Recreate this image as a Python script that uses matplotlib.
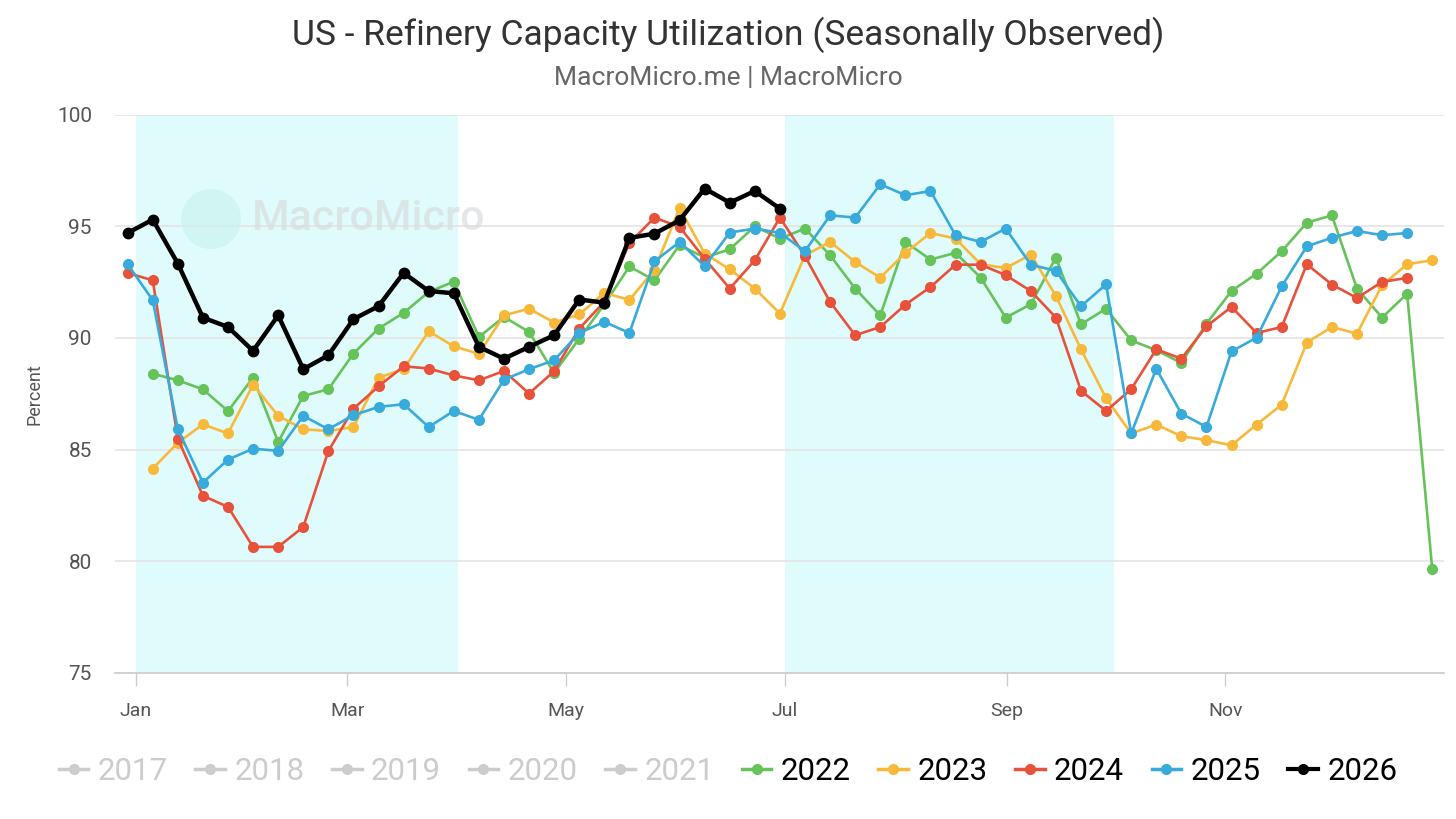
import numpy as np
import matplotlib.pyplot as plt
from matplotlib.lines import Line2D
from matplotlib.patches import Ellipse

plt.rcParams['font.family'] = ['Roboto', 'DejaVu Sans']

# --- datos (porcentaje semanal, índice de semana 0..52) ---
nan = np.nan
y2022 = [nan, 88.4, 88.1, 87.7, 86.72, 88.22, 85.34, 87.4, 87.7, 89.3,
         90.42, 91.12, 92.06, 92.52, 90.04, 90.94, 90.27, 88.43, 89.97, 91.5,
         93.2, 92.58, 94.16, 93.6, 93.97, 95.0, 94.45, 94.9, 93.7, 92.21,
         91.01, 94.3, 93.51, 93.81, 92.7, 90.91, 91.51, 93.6, 90.61, 91.31,
         89.89, 89.45, 88.88, 90.64, 92.1, 92.88, 93.88, 95.16, 95.49, 92.21,
         90.91, 91.98, 79.64]
y2023 = [nan, 84.15, 85.3, 86.13, 85.72, 87.91, 86.51, 85.91, 85.83, 86.01,
         88.22, 88.6, 90.3, 89.62, 89.29, 91.01, 91.31, 90.69, 91.05, 92.02,
         91.7, 93.06, 95.82, 93.78, 93.07, 92.21, 91.09, 93.7, 94.3, 93.4,
         92.7, 93.81, 94.7, 94.45, 93.3, 93.13, 93.73, 91.88, 89.49, 87.3,
         85.72, 86.12, 85.6, 85.42, 85.19, 86.12, 87.01, 89.79, 90.49, 90.19,
         92.36, 93.3, 93.48]
y2024 = [92.91, 92.58, 85.49, 82.93, 82.43, 80.64, 80.64, 81.53, 84.93, 86.83,
         87.83, 88.73, 88.63, 88.32, 88.1, 88.52, 87.51, 88.51, 90.42, 91.61,
         94.25, 95.39, 94.97, 93.55, 92.21, 93.48, 95.39, 93.66, 91.61, 90.12,
         90.49, 91.49, 92.28, 93.28, 93.28, 92.81, 92.1, 90.91, 87.63, 86.73,
         87.7, 89.49, 89.07, 90.52, 91.39, 90.22, 90.49, 93.3, 92.39, 91.79,
         92.51, 92.69]
y2025 = [93.3, 91.69, 85.91, 83.52, 84.55, 85.04, 84.94, 86.51, 85.91, 86.54,
         86.91, 87.03, 86.01, 86.73, 86.33, 88.13, 88.6, 89.0, 90.22, 90.72,
         90.22, 93.43, 94.3, 93.21, 94.72, 94.9, 94.7, 93.89, 95.49, 95.39,
         96.88, 96.39, 96.58, 94.6, 94.3, 94.9, 93.28, 93.0, 91.42, 92.4,
         85.72, 88.62, 86.61, 86.01, 89.4, 90.01, 92.31, 94.1, 94.49, 94.79,
         94.6, 94.7]
y2026 = [94.7, 95.3, 93.33, 90.91, 90.49, 89.42, 91.01, 88.6, 89.22, 90.84,
         91.42, 92.91, 92.1, 92.0, 89.6, 89.07, 89.6, 90.12, 91.72, 91.58,
         94.48, 94.67, 95.27, 96.69, 96.06, 96.58, 95.79]

series = {'2022': y2022, '2023': y2023, '2024': y2024, '2025': y2025, '2026': y2026}
colores = {'2022': '#66c35a', '2023': '#f8b93a', '2024': '#e8513a',
           '2025': '#38aadc', '2026': '#000000'}
años_ocultos = ['2017', '2018', '2019', '2020', '2021']

meses = ['Jan', 'Mar', 'May', 'Jul', 'Sep', 'Nov']
dia_mes = [0, 59, 120, 181, 243, 304]   # día del año de cada etiqueta
trimestres = [(0, 90), (181, 273)]      # Q1 y Q3 sombreados

# x en días: cada semana 7 días, primera semana ~2 días antes del 1 de enero
def dias(n):
    return -2.3 + 7 * np.arange(n)

fig = plt.figure(figsize=(14.56, 8.19), dpi=100)
ax = fig.add_axes([0.0793, 0.1785, 0.9125, 0.6815])

for a, b in trimestres:
    ax.axvspan(a, b, color='#dffbfb', lw=0, zorder=0)

# marca de agua
ax.add_patch(Ellipse((211 / 1456, 1 - 219 / 819), 60 / 1456, 60 / 819,
                     transform=fig.transFigure, color='#c8f2ee', alpha=0.6,
                     lw=0, zorder=1))
fig.text(252 / 1456, 1 - 219 / 819, 'MacroMicro', fontsize=31, fontweight='medium',
         color='#d9dcde', alpha=0.7, ha='left', va='center', zorder=1)

for año, vals in series.items():
    vals = np.array(vals, dtype=float)
    negro = año == '2026'
    ax.plot(dias(len(vals)), vals, color=colores[año],
            lw=3.2 if negro else 1.9, marker='o',
            markersize=8.5 if negro else 8, markeredgewidth=0, zorder=3)

ax.set_xlim(-5.7, 365)
ax.set_ylim(75, 100)
ax.set_yticks([75, 80, 85, 90, 95, 100])
ax.grid(axis='y', color='#e4e4e4', lw=1.2, zorder=0.5)
ax.set_axisbelow(True)
ax.set_xticks(dia_mes)
ax.set_xticklabels(meses)
ax.tick_params(axis='x', length=9, color='#cccccc', width=1, pad=12,
               labelsize=14, labelcolor='#555555')
ax.tick_params(axis='y', length=0, pad=17, labelsize=15, labelcolor='#555555')
for s in ['top', 'right', 'left']:
    ax.spines[s].set_visible(False)
ax.spines['bottom'].set_color('#cccccc')
ax.spines['bottom'].set_linewidth(1.2)
ax.set_ylabel('Percent', fontsize=13, color='#555555')
ax.yaxis.set_label_coords(-0.0545, 0.5)

fig.text(0.5, 1 - 35 / 819, 'US - Refinery Capacity Utilization (Seasonally Observed)',
         ha='center', va='center', fontsize=25.5, color='#333333')
fig.text(0.5, 1 - 78 / 819, 'MacroMicro.me | MacroMicro',
         ha='center', va='center', fontsize=19, color='#666666')

# leyenda
handles, labels, txt_col = [], [], []
for año in años_ocultos:
    handles.append(Line2D([], [], color='#cccccc', lw=2.5, marker='o',
                          markersize=8, markeredgewidth=0))
    labels.append(año)
    txt_col.append('#cccccc')
for año in series:
    handles.append(Line2D([], [], color=colores[año], lw=3 if año == '2026' else 2.5,
                          marker='o', markersize=8, markeredgewidth=0))
    labels.append(año)
    txt_col.append('#000000')
leg = fig.legend(handles, labels, loc='center', bbox_to_anchor=(0.5, 1 - 771 / 819),
                 ncol=10, frameon=False, fontsize=22.5, handlelength=0.95,
                 handletextpad=0.3, columnspacing=0.88)
for t, c in zip(leg.get_texts(), txt_col):
    t.set_color(c)

fig.savefig('out.png', dpi=100)
